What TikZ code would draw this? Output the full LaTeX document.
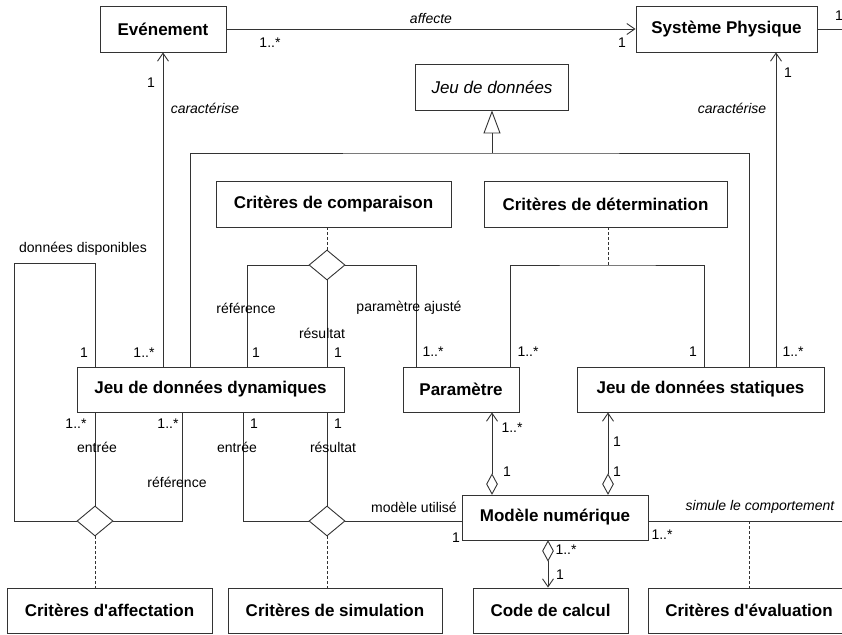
\documentclass[tikz,border=0pt]{standalone}
\usepackage{fontspec}
\setmainfont{Liberation Sans}[Ligatures=TeXOff]
\usetikzlibrary{arrows.meta,shapes.geometric}
\begin{document}
\begin{tikzpicture}[x=1pt,y=-1pt,line width=0.9pt,color=black!80,
  cls/.style={draw, rectangle, inner sep=0pt, minimum height=46pt, text=black,
    font=\fontsize{17}{20}\selectfont\bfseries},
  lbl/.style={inner sep=0pt, text=black, font=\fontsize{14}{16}\selectfont},
  ilbl/.style={inner sep=0pt, text=black, font=\fontsize{14}{16}\selectfont\itshape},
  tern/.style={draw, diamond, inner sep=0pt, minimum width=36pt, minimum height=30pt},
  agg/.style={draw, diamond, inner sep=0pt, minimum width=11pt, minimum height=20pt},
  dsh/.style={line width=0.8pt, dash pattern=on 3pt off 2pt},
  nav/.style={-{Straight Barb[length=8pt,width=11pt]}}]
\useasboundingbox (0,0) rectangle (842,634);
\clip (0,0) rectangle (842,634);

% classes
\node[cls, minimum width=126pt] (ev) at (163,29) {Evénement};
\node[cls, minimum width=181pt] (sp) at (726.5,29) {Système Physique};
\node[cls, minimum width=153pt, font=\fontsize{17}{20}\selectfont\itshape] (jd) at (492,87) {Jeu de données};
\node[cls, minimum width=235pt] (cc) at (333.5,204) {Critères de comparaison};
\node[cls, minimum width=243pt] (cd) at (605.5,204) {Critères de détermination};
\node[cls, minimum width=267pt, minimum height=45pt] (jdd) at (210.5,389.5) {Jeu de données dynamiques};
\node[cls, minimum width=116pt, minimum height=45pt] (par) at (461,389.5) {Paramètre};
\node[cls, minimum width=247pt, minimum height=45pt] (jds) at (700.5,389.5) {Jeu de données statiques};
\node[cls, minimum width=186pt, minimum height=45pt] (mn) at (555,517.5) {Modèle numérique};
\node[cls, minimum width=205pt, minimum height=45pt] (ca) at (109.5,610.5) {Critères d'affectation};
\node[cls, minimum width=214pt, minimum height=45pt] (cs) at (335,610.5) {Critères de simulation};
\node[cls, minimum width=155pt, minimum height=45pt] (code) at (550.5,610.5) {Code de calcul};
\node[cls, minimum width=202pt, minimum height=45pt] (ce) at (749,610.5) {Critères d'évaluation};

% affecte
\draw[nav] (ev.east) -- (sp.west);
\node[ilbl] at (431,18) {affecte};
\node[lbl] at (270,43) {1..*};
\node[lbl] at (622,43) {1};
\coordinate (spr) at (842,29);
\draw (sp.east) -- (spr);
\node[lbl] at (839,16) {1};

% caractérise
\draw[nav] (163,0 |- jdd.north) -- (ev.south);
\node[lbl] at (151,83) {1};
\node[ilbl] at (205,108) {caractérise};
\draw[nav] (776,0 |- jds.north) -- (776,0 |- sp.south);
\node[lbl] at (788,73) {1};
\node[ilbl] at (732,108) {caractérise};
\node[lbl] at (144,353) {1..*};
\node[lbl] at (793,352) {1..*};

% generalisation
\coordinate (g) at (492,153);
\draw (190,0 |- jdd.north) |- (g) -| (749,0 |- jds.north);
\draw[-{Triangle[open,length=23pt,width=17pt]}] (g) -- (jd.south);

% comparaison
\node[tern] (dc) at (327,265) {};
\draw[dsh] (dc.north) -- (dc.north |- cc.south);
\draw (dc.west) -| (247,0 |- jdd.north);
\draw (dc.south) -- (dc.south |- jdd.north);
\draw (dc.east) -| (416,0 |- par.north);
\node[lbl] at (246,308) {référence};
\node[lbl] at (256,353) {1};
\node[lbl] at (322,333) {résultat};
\node[lbl] at (338,353) {1};
\node[lbl] at (409,308) {paramètre ajusté};
\node[lbl] at (433,352) {1..*};

% determination
\coordinate (dd) at (608,265);
\draw[dsh] (cd.south -| dd) -- (dd);
\draw (510,0 |- par.north) |- (dd) -| (704,0 |- jds.north);
\node[lbl] at (528,352) {1..*};
\node[lbl] at (693,352) {1};

% affectation
\node[tern] (da) at (95,521) {};
\coordinate (lp) at (14,263);
\draw (95,0 |- jdd.north) |- (lp) |- (da.west);
\draw (da.north) -- (da.north |- jdd.south);
\draw (da.east) -| (182,0 |- jdd.south);
\draw[dsh] (da.south) -- (da.south |- ca.north);
\node[lbl] at (83,249) {données disponibles};
\node[lbl] at (84,353) {1};
\node[lbl] at (76,424) {1..*};
\node[lbl] at (97,447) {entrée};
\node[lbl] at (168,424) {1..*};
\node[lbl] at (177,482) {référence};

% simulation
\node[tern] (ds) at (327,521) {};
\draw (ds.west) -| (243,0 |- jdd.south);
\draw (ds.north) -- (ds.north |- jdd.south);
\draw (ds.east) -- (ds.east -| mn.west);
\draw[dsh] (ds.south) -- (ds.south |- cs.north);
\node[lbl] at (254,424) {1};
\node[lbl] at (237,447) {entrée};
\node[lbl] at (338,424) {1};
\node[lbl] at (333,447) {résultat};
\node[lbl] at (414,507) {modèle utilisé};
\node[lbl] at (456,538) {1};

% simule le comportement
\coordinate (mr) at (842,521);
\draw (mr -| mn.east) -- (mr);
\coordinate (ed) at (749,521);
\draw[dsh] (ed) -- (ed |- ce.north);
\node[ilbl] at (760,507) {simule le comportement};
\node[lbl] at (662,535) {1..*};

% aggregations
\node[agg, anchor=south] (a1) at (492,0 |- mn.north) {};
\draw[nav] (a1.north) -- (a1.north |- par.south);
\node[lbl] at (512,428) {1..*};
\node[lbl] at (507,472) {1};
\node[agg, anchor=south] (a2) at (608,0 |- mn.north) {};
\draw[nav] (a2.north) -- (a2.north |- jds.south);
\node[lbl] at (617,442) {1};
\node[lbl] at (617,472) {1};
\node[agg, anchor=north] (a3) at (548,0 |- mn.south) {};
\draw[nav] (a3.south) -- (a3.south |- code.north);
\node[lbl] at (566,550) {1..*};
\node[lbl] at (560,575) {1};
\end{tikzpicture}
\end{document}
